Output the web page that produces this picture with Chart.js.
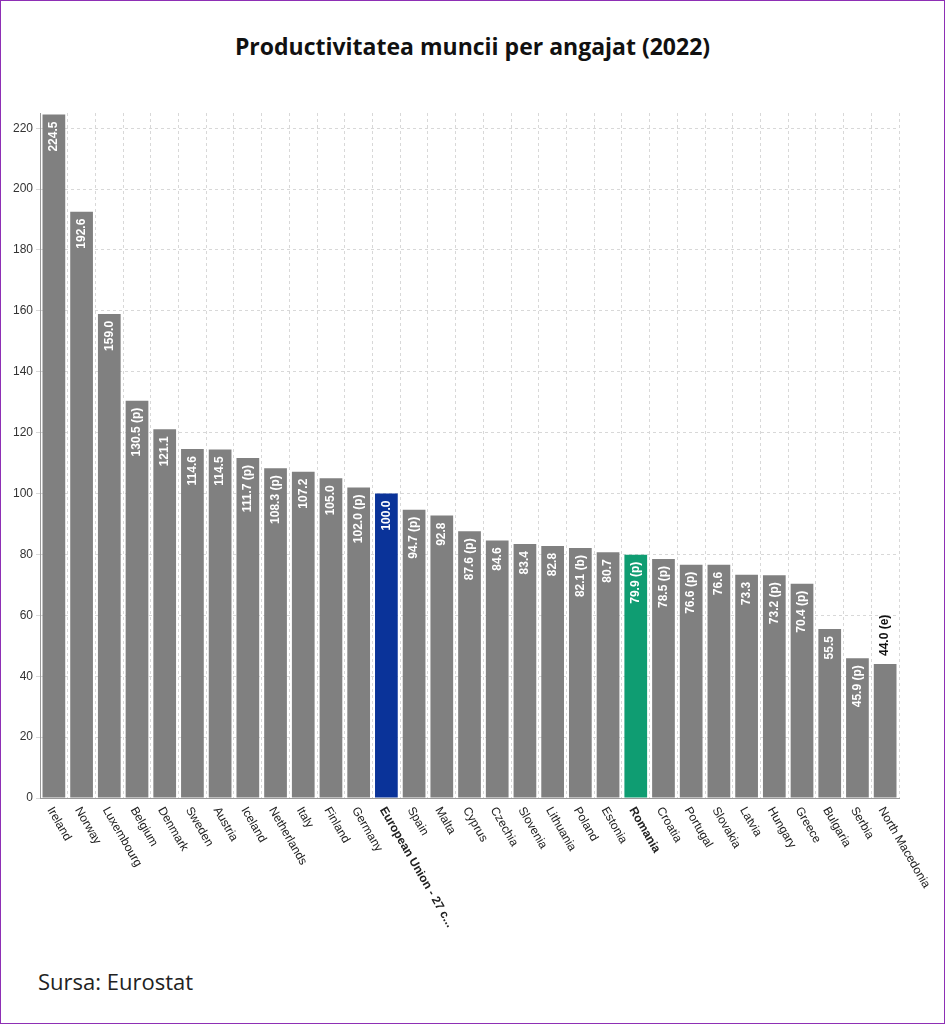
<!DOCTYPE html>
<html>
<head>
<meta charset="utf-8">
<script src="https://cdn.jsdelivr.net/npm/chart.js@4"></script>
<style>
  html, body { margin: 0; padding: 0; background: #fff; }
  #frame { position: absolute; left: 0; top: 0; width: 943px; height: 1022px; border: 1px solid #8e2fb5; }
  #titlu { position: absolute; top: 30px; width: 945px; text-align: center; font: bold 23px 'Open Sans', sans-serif; color: #111; }
  #box { position: absolute; left: 10px; top: 100px; width: 934px; height: 850px; }
  #sursa { position: absolute; left: 38px; top: 966px; font: 22px 'Open Sans', sans-serif; color: #222; }
</style>
</head>
<body>
<div id="frame"></div>
<div id="titlu">Productivitatea muncii per angajat (2022)</div>
<div id="box"><canvas id="grafic"></canvas></div>
<div id="sursa">Sursa: Eurostat</div>
<script>
let tari = ['Ireland', 'Norway', 'Luxembourg', 'Belgium', 'Denmark', 'Sweden', 'Austria', 'Iceland', 'Netherlands', 'Italy', 'Finland', 'Germany', 'European Union - 27 c...', 'Spain', 'Malta', 'Cyprus', 'Czechia', 'Slovenia', 'Lithuania', 'Poland', 'Estonia', 'Romania', 'Croatia', 'Portugal', 'Slovakia', 'Latvia', 'Hungary', 'Greece', 'Bulgaria', 'Serbia', 'North Macedonia']
let valori = [224.5, 192.6, 159.0, 130.5, 121.1, 114.6, 114.5, 111.7, 108.3, 107.2, 105.0, 102.0, 100.0, 94.7, 92.8, 87.6, 84.6, 83.4, 82.8, 82.1, 80.7, 79.9, 78.5, 76.6, 76.6, 73.3, 73.2, 70.4, 55.5, 45.9, 44.0]
let note = ['', '', '', ' (p)', '', '', '', ' (p)', ' (p)', '', '', ' (p)', '', ' (p)', '', ' (p)', '', '', '', ' (b)', '', ' (p)', ' (p)', ' (p)', '', '', ' (p)', ' (p)', '', ' (p)', ' (e)']
let yTicks = [0, 20, 40, 60, 80, 100, 120, 140, 160, 180, 200, 220]

let culori = tari.map(t => t === 'Romania' ? '#0f9d72' : (t.startsWith('European') ? '#0a3399' : '#808080'))

let etichete = {
    id: 'etichete',
    afterDatasetsDraw(chart) {
        let ctx = chart.ctx
        let meta = chart.getDatasetMeta(0)
        ctx.save()
        ctx.font = 'bold 12px "Liberation Sans", Arial, sans-serif'
        meta.data.forEach((bar, i) => {
            let txt = valori[i].toFixed(1) + note[i]
            ctx.save()
            ctx.translate(bar.x, bar.y)
            ctx.rotate(-Math.PI / 2)
            ctx.textBaseline = 'middle'
            if (i === meta.data.length - 1) {
                ctx.fillStyle = '#111'
                ctx.textAlign = 'left'
                ctx.fillText(txt, 8, 0)
            } else {
                ctx.fillStyle = '#fff'
                ctx.textAlign = 'right'
                ctx.fillText(txt, -7, 0)
            }
            ctx.restore()
        })
        // etichete axa x
        let x = chart.scales.x
        let y0 = chart.scales.y.bottom
        tari.forEach((t, i) => {
            let bold = t === 'Romania' || t.startsWith('European')
            ctx.save()
            ctx.translate(x.getPixelForTick(i) - 4, y0 + 10)
            ctx.rotate(Math.PI / 3)
            ctx.font = (bold ? 'bold ' : '') + '12px "Liberation Sans", Arial, sans-serif'
            ctx.fillStyle = '#222'
            ctx.textAlign = 'left'
            ctx.textBaseline = 'middle'
            ctx.fillText(t, 0, 0)
            ctx.restore()
        })
        ctx.restore()
    }
}

new Chart(document.getElementById('grafic'), {
    type: 'bar',
    data: {
        labels: tari,
        datasets: [{
            data: valori,
            backgroundColor: culori,
            categoryPercentage: 1,
            barPercentage: 0.82
        }]
    },
    options: {
        responsive: true,
        maintainAspectRatio: false,
        animation: false,
        layout: { padding: { top: 13, right: 45, bottom: 0 } },
        plugins: { legend: { display: false }, tooltip: { enabled: false } },
        scales: {
            x: {
                grid: { color: '#d8d8d8', tickLength: 0, borderDash: [3, 3] },
                border: { color: '#999', dash: [3, 3] },
                ticks: { display: false },
                afterFit(scale) { scale.height = 152 }
            },
            y: {
                min: 0,
                max: 225,
                afterBuildTicks(axis) { axis.ticks = yTicks.map(v => ({ value: v })) },
                grid: { color: '#d8d8d8', tickLength: 4 },
                border: { color: '#999', dash: [3, 3] },
                ticks: { color: '#333', font: { size: 12, family: '"Liberation Sans", Arial, sans-serif' } }
            }
        }
    },
    plugins: [etichete]
})
</script>
</body>
</html>
